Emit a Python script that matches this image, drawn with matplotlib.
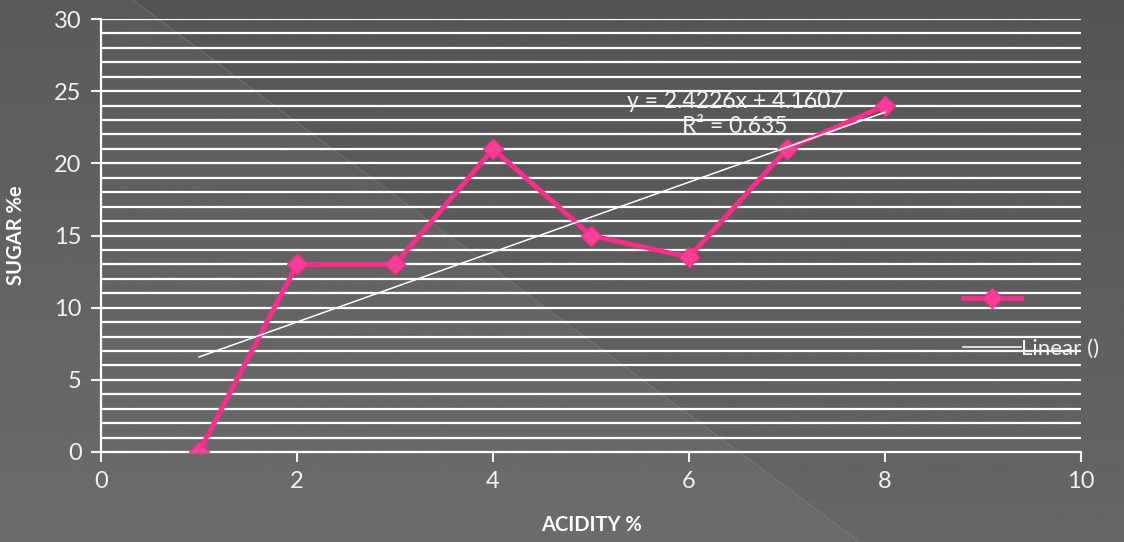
import numpy as np
import matplotlib
matplotlib.use("Agg")
import matplotlib.pyplot as plt
from matplotlib.lines import Line2D

# data
acidity = [1, 2, 3, 4, 5, 6, 7, 8]
sugar = [0, 13, 13, 21, 15, 13.5, 21, 24]
slope = 2.4226
intercept = 4.1607
r2 = 0.635

pink = "#ff2a8c"
plt.rcParams['font.family'] = ['Lato', 'DejaVu Sans']

fig = plt.figure(figsize=(11.24, 5.42), dpi=100)

# background: vertical grey gradient with a lighter diagonal triangle
bg = fig.add_axes([0, 0, 1, 1])
bg.set_xlim(0, 1124)
bg.set_ylim(542, 0)
bg.axis("off")
yy = np.linspace(0, 1, 200)[:, None]
grad = 0.33 + 0.07 * yy * np.ones((1, 2))
bg.imshow(grad, cmap="gray", vmin=0, vmax=1, extent=[0, 1124, 542, 0], aspect="auto")
bg.fill([0, 133, 860, 0], [0, 0, 542, 542], color="white", alpha=0.04, lw=0)
bg.plot([133, 860], [0, 542], color="#8a8a8a", lw=0.7, alpha=0.45)

ax = fig.add_axes([101 / 1124, 1 - 452 / 542, 980 / 1124, 433 / 542])
ax.patch.set_alpha(0)
ax.set_xlim(0, 10)
ax.set_ylim(0, 30)
ax.set_xticks(range(0, 11, 2))
ax.set_yticks(range(0, 31, 5))
for y in range(1, 31):
    ax.axhline(y, color="white", lw=1.6, zorder=1)
for s in ["top", "right"]:
    ax.spines[s].set_visible(False)
for s in ["left", "bottom"]:
    ax.spines[s].set_color("white")
    ax.spines[s].set_linewidth(1.6)
ax.tick_params(colors="#f2f2f2", labelsize=17, length=7, width=1.5, pad=7)
ax.set_xlabel("ACIDITY %", color="white", fontsize=14.5, fontweight="bold", labelpad=16)
ax.set_ylabel("SUGAR %e", color="white", fontsize=14.5, fontweight="bold", labelpad=20)

ax.plot(acidity, sugar, color=pink, lw=3.5, marker="D", ms=10.5,
        mfc="#ff3d96", mec=pink, zorder=3)
tx = np.array([acidity[0], acidity[-1]])
ax.plot(tx, slope * tx + intercept, color="white", lw=1.1, zorder=4)
ax.text(6.47, 23.4, "y = %.4fx + %.4f\nR² = %.3f" % (slope, intercept, r2),
        color="#f2f2f2", fontsize=16.5, ha="center", va="center", linespacing=1.25, zorder=5)

handles = [Line2D([], [], color=pink, lw=3.5, marker="D", ms=10.5, mfc="#ff3d96", mec=pink),
           Line2D([], [], color="white", lw=1.1)]
fig.legend(handles, ["", "Linear ()"], loc="upper left", bbox_to_anchor=(943 / 1124, 1 - 270 / 542),
           frameon=False, labelcolor="#f2f2f2", fontsize=16, handlelength=2.6,
           handletextpad=0.0, labelspacing=1.3)

fig.savefig("out.png", dpi=100)
